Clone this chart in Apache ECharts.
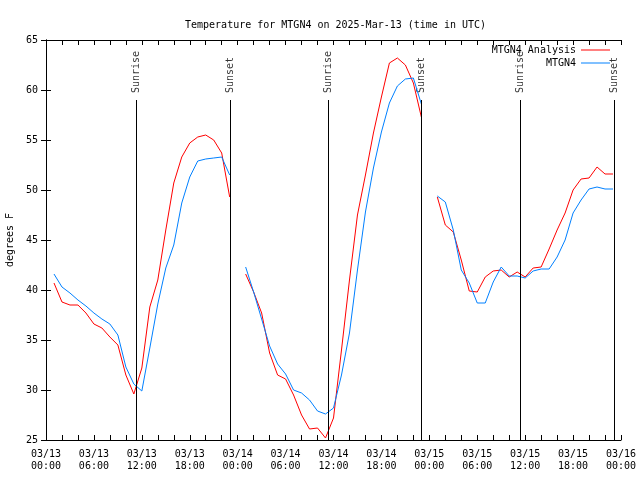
<!DOCTYPE html>
<html>
<head>
<meta charset="utf-8">
<script src="https://cdn.jsdelivr.net/npm/echarts@6/dist/echarts.min.js"></script>
<style>html,body{margin:0;padding:0;background:#fff}#c{width:640px;height:480px}</style>
</head>
<body>
<div id="c"></div>
<script>
// hours after 2025-03-13 00:00 UTC
const hours = [1,2,3,4,5,6,7,8,9,10,11,12,13,14,15,16,17,18,19,20,21,22,23,24,
  25,26,27,28,29,30,31,32,33,34,35,36,37,38,39,40,41,42,43,44,45,46,47,48,
  49,50,51,52,53,54,55,56,57,58,59,60,61,62,63,64,65,66,67,68,69,70,71];
const analysis = [40.7,38.8,38.5,38.5,37.7,36.6,36.2,35.3,34.5,31.5,29.6,32.2,38.3,41.0,46.0,50.7,53.3,54.7,55.3,55.5,55.0,53.7,49.3,null,
  41.6,39.8,37.7,33.7,31.5,31.1,29.5,27.5,26.1,26.2,25.2,27.2,34.0,41.0,47.5,51.5,55.7,59.3,62.7,63.2,62.5,60.7,57.3,null,
  49.3,46.5,45.8,43.0,39.9,39.8,41.3,41.9,42.0,41.3,41.8,41.3,42.2,42.3,44.1,46.0,47.7,50.0,51.1,51.2,52.3,51.6,51.6];
const observed = [41.6,40.3,39.7,39.0,38.4,37.7,37.1,36.6,35.5,32.3,30.6,29.9,34.2,38.6,42.2,44.5,48.7,51.3,52.9,53.1,53.2,53.3,51.5,null,
  42.3,39.8,37.1,34.4,32.6,31.6,30.0,29.7,29.0,27.9,27.6,28.2,31.5,35.7,42.0,47.8,52.2,55.8,58.7,60.4,61.1,61.2,58.6,null,
  49.4,48.8,46.0,42.0,40.7,38.7,38.7,40.8,42.3,41.4,41.4,41.2,41.9,42.1,42.1,43.3,45.0,47.7,49.0,50.1,50.3,50.1,50.1];
const sunTimes = [11.33, 23.09, 35.38, 47.05, 59.39, 71.18];
const sunNames = ['Sunrise','Sunset','Sunrise','Sunset','Sunrise','Sunset'];
const sunLineTop = 59;
const xTickLabels = ['03/13\n00:00','03/13\n06:00','03/13\n12:00','03/13\n18:00','03/14\n00:00','03/14\n06:00',
  '03/14\n12:00','03/14\n18:00','03/15\n00:00','03/15\n06:00','03/15\n12:00','03/15\n18:00','03/16\n00:00'];
const seriesNames = ['MTGN4 Analysis','MTGN4'];
const seriesColors = ['#ff0000','#0080ff'];
const titleText = 'Temperature for MTGN4 on 2025-Mar-13 (time in UTC)';
const yName = 'degrees F';

const FONT = 'DejaVu Sans Mono';
const txt = {fontFamily: FONT, fontSize: 10, color: '#000'};
const pair = (xs, ys) => xs.map((x, i) => [x, ys[i]]);

const xBase = {
  type: 'value', min: 0, max: 72, interval: 6,
  axisLine: {show: true, lineStyle: {color: '#000', width: 1}},
  axisTick: {show: true, inside: true, length: 5, lineStyle: {color: '#000'}},
  minorTick: {show: true, splitNumber: 3, length: 5, lineStyle: {color: '#000'}},
  splitLine: {show: false}, minorSplitLine: {show: false}
};
const yBase = {
  type: 'value', min: 25, max: 65, interval: 5,
  axisLine: {show: true, lineStyle: {color: '#000', width: 1}},
  axisTick: {show: true, inside: true, length: 5, lineStyle: {color: '#000'}},
  splitLine: {show: false}
};

const chart = echarts.init(document.getElementById('c'), null, {renderer: 'canvas'});
chart.setOption({
  animation: false,
  backgroundColor: '#fff',
  title: {text: titleText, left: 180, top: 14, textStyle: Object.assign({fontWeight: 'normal', lineHeight: 12}, txt)},
  legend: {
    data: seriesNames.map((n, i) => ({name: n, icon: 'rect', itemStyle: {color: seriesColors[i]}})),
    orient: 'vertical', right: 30, top: 44, align: 'right', padding: 0,
    itemWidth: 29, itemHeight: 1, itemGap: 1, textStyle: Object.assign({lineHeight: 12}, txt), selectedMode: false
  },
  grid: {left: 46, right: 19, top: 40, bottom: 40, containLabel: false, outerBoundsMode: 'none'},
  xAxis: [
    Object.assign({}, xBase, {position: 'bottom',
      axisLabel: Object.assign({margin: 8, lineHeight: 12, formatter: v => xTickLabels[Math.round(v / 6)]}, txt)}),
    Object.assign({}, xBase, {position: 'top', axisLabel: {show: false}})
  ],
  yAxis: [
    Object.assign({}, yBase, {position: 'left', name: yName, nameLocation: 'middle', nameGap: 31,
      nameTextStyle: txt, axisLabel: Object.assign({margin: 8}, txt)}),
    Object.assign({}, yBase, {position: 'right', axisLabel: {show: false}})
  ],
  series: [
    {name: seriesNames[0], type: 'line', data: pair(hours, analysis), symbol: 'none', showSymbol: false,
      lineStyle: {color: seriesColors[0], width: 1}, itemStyle: {color: seriesColors[0]}, connectNulls: false, z: 3},
    {name: seriesNames[1], type: 'line', data: pair(hours, observed), symbol: 'none', showSymbol: false,
      lineStyle: {color: seriesColors[1], width: 1}, itemStyle: {color: seriesColors[1]}, connectNulls: false, z: 3},
    {name: 'sun', type: 'scatter', symbolSize: 0, silent: true, z: 2,
      data: sunTimes.map((t, i) => ({value: [t, sunLineTop], name: sunNames[i]})),
      label: Object.assign({show: true, formatter: p => p.name, position: 'top', distance: 7,
        rotate: 90, align: 'left', verticalAlign: 'middle'}, txt),
      markLine: {silent: true, symbol: 'none', animation: false,
        lineStyle: {color: '#000', width: 1, type: 'solid'}, label: {show: false},
        data: sunTimes.map(t => [{coord: [t, 25]}, {coord: [t, sunLineTop]}])}
    }
  ]
});
</script>
</body>
</html>
